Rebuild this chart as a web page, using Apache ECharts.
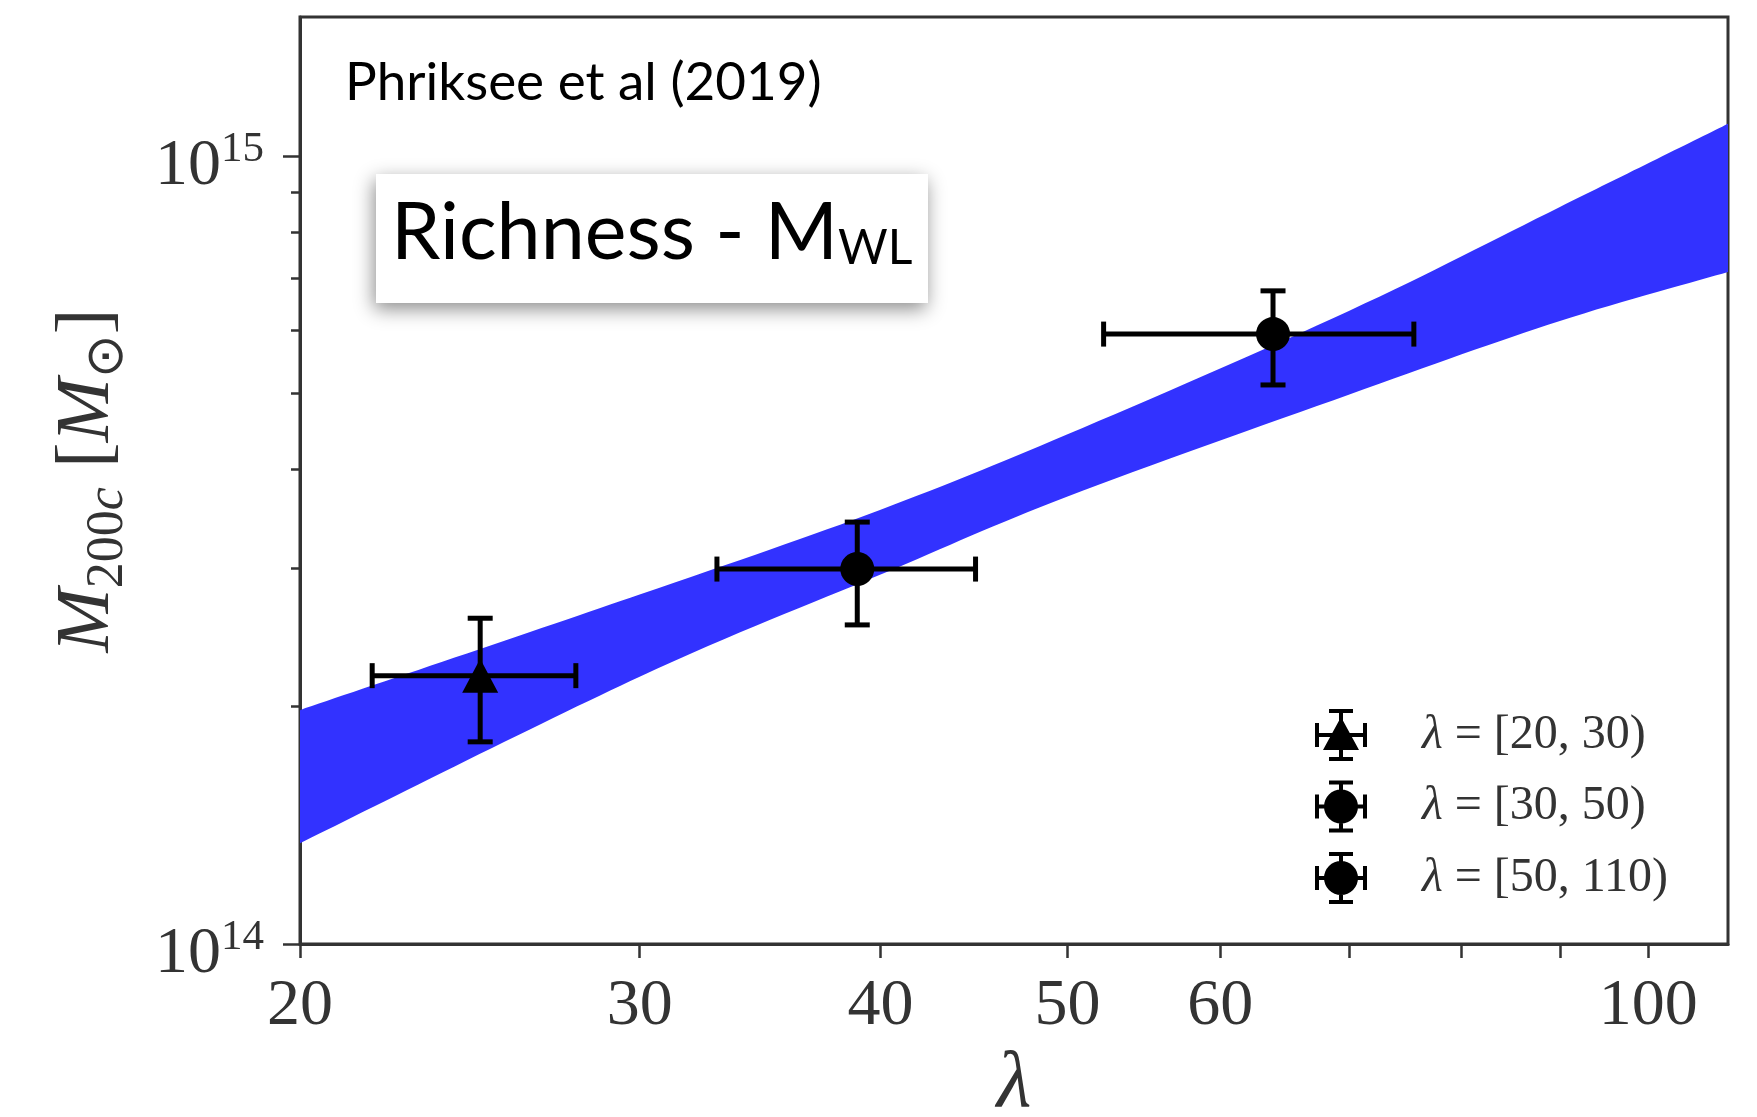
<!DOCTYPE html>
<html><head><meta charset="utf-8">
<script src="https://cdn.jsdelivr.net/npm/echarts@6/dist/echarts.min.js"></script>
<style>html,body{margin:0;padding:0;background:#fff}#c{width:1757px;height:1117px}</style>
</head><body><div id="c"></div>
<script>
// ---- data ----
const xTickLabels = [20, 30, 40, 50, 60, 100];
const xTicks = [20, 30, 40, 50, 60, 70, 80, 90, 100];
const yMajorTicks = [1e14, 1e15];
const yMinorTicks = [2e14, 3e14, 4e14, 5e14, 6e14, 7e14, 8e14, 9e14];
const bandLambda = [20, 30, 40, 50, 70, 90, 110];
const bandUpper = [1.98e14, 2.775e14, 3.557e14, 4.432e14, 6.36e14, 8.61e14, 1.098e15];
const bandLower = [1.342e14, 2.183e14, 2.942e14, 3.697e14, 4.98e14, 6.17e14, 7.12e14];
const binNames = ['λ = [20, 30)', 'λ = [30, 50)', 'λ = [50, 110)'];
const pointLambda = [24.8, 38.9, 63.9];
const pointMass = [2.19e14, 2.99e14, 5.94e14];
const lambdaLow = [21.8, 32.9, 52.2];
const lambdaHigh = [27.8, 44.8, 75.6];
const massLow = [1.805e14, 2.54e14, 5.12e14];
const massHigh = [2.59e14, 3.43e14, 6.74e14];
const markers = ['triangle', 'circle', 'circle'];

const barsPath = 'M0,24 h52 v4 h-52 Z M0,14 h4 v24 h-4 Z M48,14 h4 v24 h-4 Z M24,0 h4 v52 h-4 Z M14,0 h24 v4 h-24 Z M14,48 h24 v4 h-24 Z ';
const triIcon = 'path://' + barsPath + 'M26,8 L44,41 L8,41 Z';
const circIcon = 'path://' + barsPath + 'M9,26 a17,17 0 1,1 34,0 a17,17 0 1,1 -34,0 Z';

const serif = 'Liberation Serif';
const axisColor = '#333';

const chart = echarts.init(document.getElementById('c'), null, {renderer: 'canvas'});

function smoothSeg(pts) {
  // Catmull-Rom through pixel points -> cubic bezier commands (no initial M)
  let d = '';
  for (let i = 0; i < pts.length - 1; i++) {
    const p0 = pts[i - 1] || pts[i], p1 = pts[i], p2 = pts[i + 1], p3 = pts[i + 2] || pts[i + 1];
    const c1 = [p1[0] + (p2[0] - p0[0]) / 6, p1[1] + (p2[1] - p0[1]) / 6];
    const c2 = [p2[0] - (p3[0] - p1[0]) / 6, p2[1] - (p3[1] - p1[1]) / 6];
    d += ' C' + c1[0] + ',' + c1[1] + ' ' + c2[0] + ',' + c2[1] + ' ' + p2[0] + ',' + p2[1];
  }
  return d;
}

const scatterSeries = binNames.map((n, i) => ({
  name: n,
  type: 'scatter',
  data: [[pointLambda[i], pointMass[i]]],
  symbol: markers[i],
  symbolSize: markers[i] === 'triangle' ? [36, 34] : 34,
  itemStyle: {color: '#000', opacity: 1},
  z: 6,
  silent: true
}));

const option = {
  animation: false,
  backgroundColor: '#fff',
  grid: {left: 300, right: 29, top: 17, bottom: 173, outerBoundsMode: 'none', containLabel: false,
         show: true, borderColor: axisColor, borderWidth: 3, backgroundColor: 'transparent'},
  xAxis: {
    type: 'log', logBase: 10, min: 20, max: 110,
    axisLine: {show: true, lineStyle: {color: axisColor, width: 3}},
    axisTick: {show: true, customValues: xTicks, length: 14, lineStyle: {color: axisColor, width: 2.5}},
    axisLabel: {customValues: xTickLabels, formatter: v => String(Math.round(v)), fontFamily: serif, fontSize: 66, color: '#333', margin: 30},
    splitLine: {show: false},
    minorTick: {show: false},
    name: 'λ', nameLocation: 'middle', nameGap: 96,
    nameTextStyle: {fontFamily: serif, fontStyle: 'italic', fontSize: 80, color: '#333'}
  },
  yAxis: [{
    type: 'log', logBase: 10, min: 1e14, max: 1.5e15,
    axisLine: {show: true, lineStyle: {color: axisColor, width: 3}},
    axisTick: {show: true, customValues: yMajorTicks, length: 17, lineStyle: {color: axisColor, width: 2.5}},
    axisLabel: {
      customValues: yMajorTicks,
      formatter: v => '{n|10}{s|' + Math.round(Math.log10(v)) + '}',
      margin: 36,
      padding: [16, 0, 0, 0],
      rich: {
        n: {fontFamily: serif, fontSize: 66, color: '#333', verticalAlign: 'bottom'},
        s: {fontFamily: serif, fontSize: 43, color: '#333', verticalAlign: 'bottom', padding: [0, 0, 28, 0]}
      }
    },
    splitLine: {show: false},
    name: '{m|M}{s|200}{si|c}{b| [}{m|M}{s|⊙}{b|]}',
    nameLocation: 'middle', nameRotate: 90, nameGap: 166,
    nameTextStyle: {
      rich: {
        m: {fontFamily: serif, fontStyle: 'italic', fontSize: 77, color: '#333', verticalAlign: 'bottom', padding: [0, 0, 8, 0]},
        b: {fontFamily: serif, fontSize: 77, color: '#333', verticalAlign: 'bottom', padding: [0, 0, 8, 0]},
        s: {fontFamily: serif, fontSize: 52, color: '#333', verticalAlign: 'bottom'},
        si: {fontFamily: serif, fontStyle: 'italic', fontSize: 52, color: '#333', verticalAlign: 'bottom'}
      }
    }
  }, {
    type: 'log', logBase: 10, min: 1e14, max: 1.5e15, position: 'left',
    axisLine: {show: false},
    axisTick: {show: true, customValues: yMinorTicks, length: 9, lineStyle: {color: axisColor, width: 2.5}},
    axisLabel: {show: false},
    splitLine: {show: false}
  }],
  legend: {
    orient: 'vertical', left: 1310, top: 704,
    itemWidth: 52, itemHeight: 52, itemGap: 19.5,
    selectedMode: false,
    data: binNames.map((n, i) => ({name: n, icon: i === 0 ? triIcon : circIcon, itemStyle: {color: '#000'}})),
    formatter: name => '{i|λ}{t|' + name.slice(1) + '}',
    textStyle: {
      padding: [0, 0, 0, 50],
      rich: {
        i: {fontFamily: serif, fontStyle: 'italic', fontSize: 48, color: '#333'},
        t: {fontFamily: serif, fontSize: 48, color: '#333'}
      }
    }
  },
  graphic: [
    {type: 'text', left: 345, top: 56, z: 10,
     style: {text: 'Phriksee et al (2019)', font: '53px Lato', fill: '#000'}},
    {type: 'rect', shape: {x: 376, y: 174, width: 552, height: 129}, z: 9,
     style: {fill: '#fff', shadowBlur: 18, shadowColor: 'rgba(0,0,0,0.45)', shadowOffsetX: -2, shadowOffsetY: 6}},
    {type: 'text', left: 391, top: 194, z: 10,
     style: {text: '{a|Richness - M}{b|WL}', rich: {
       a: {fontFamily: 'Lato', fontSize: 79, fill: '#000', verticalAlign: 'bottom'},
       b: {fontFamily: 'Lato', fontSize: 48, fill: '#000', verticalAlign: 'bottom'}
     }}}
  ],
  series: [
    {
      type: 'custom', name: 'band', z: 2, silent: true, clip: true,
      data: bandLambda.map((v, i) => [v, bandLower[i], bandUpper[i]]),
      encode: {x: 0, y: [1, 2]},
      renderItem: (params, api) => {
        if (params.dataIndex !== 0) return null;
        const up = bandLambda.map((v, i) => api.coord([v, bandUpper[i]]));
        const lo = bandLambda.map((v, i) => api.coord([v, bandLower[i]])).reverse();
        let d = 'M' + up[0][0] + ',' + up[0][1] + smoothSeg(up);
        d += ' L' + lo[0][0] + ',' + lo[0][1] + smoothSeg(lo) + ' Z';
        return {type: 'path', shape: {pathData: d}, style: {fill: '#3232ff', stroke: null}};
      }
    },
    {
      type: 'custom', name: 'errors', z: 4, silent: true,
      data: pointLambda.map((v, i) => [v, pointMass[i], lambdaLow[i], lambdaHigh[i], massLow[i], massHigh[i]]),
      encode: {x: 0, y: 1},
      renderItem: (params, api) => {
        const x = api.value(0), y = api.value(1);
        const pL = api.coord([api.value(2), y]);
        const pR = api.coord([api.value(3), y]);
        const pB = api.coord([x, api.value(4)]);
        const pT = api.coord([x, api.value(5)]);
        const c = 12.5;
        const st = {stroke: '#000', lineWidth: 5};
        const ln = (x1, y1, x2, y2) => ({type: 'line', shape: {x1, y1, x2, y2}, style: st});
        return {type: 'group', children: [
          ln(pL[0], pL[1], pR[0], pR[1]),
          ln(pL[0], pL[1] - c, pL[0], pL[1] + c),
          ln(pR[0], pR[1] - c, pR[0], pR[1] + c),
          ln(pB[0], pB[1], pT[0], pT[1]),
          ln(pT[0] - c, pT[1], pT[0] + c, pT[1]),
          ln(pB[0] - c, pB[1], pB[0] + c, pB[1])
        ]};
      }
    }
  ].concat(scatterSeries)
};
chart.setOption(option);
</script></body></html>
